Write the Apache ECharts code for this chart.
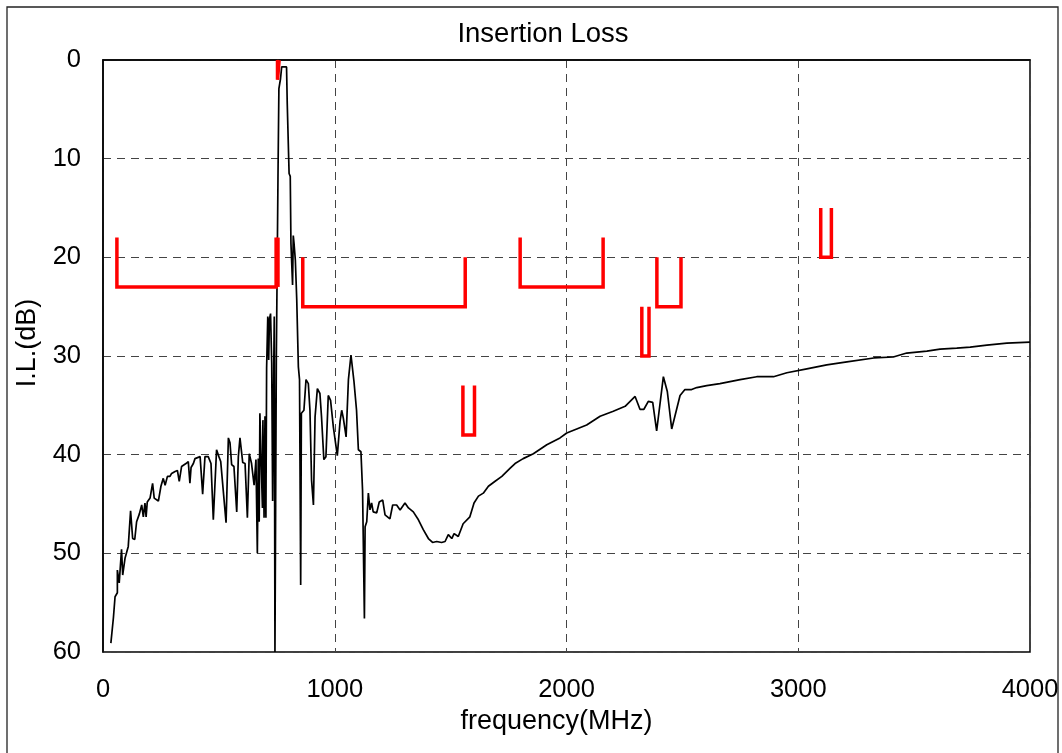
<!DOCTYPE html>
<html>
<head>
<meta charset="utf-8">
<script src="https://cdn.jsdelivr.net/npm/echarts@6/dist/echarts.min.js"></script>
<style>
html,body{margin:0;padding:0;background:#fff;}
#chart{width:1062px;height:753px;}
</style>
</head>
<body>
<div id="chart"></div>
<script>
// ---- data ----
var xTicks = [0, 1000, 2000, 3000, 4000];
var yTicks = [0, 10, 20, 30, 40, 50, 60];

var freq = [34,45,52,62,62,70,80,85,95,102,109,119,128,137,145,157,167,174,181,186,191,203,214,221,239,250,260,268,278,289,296,311,321,329,339,347,358,368,375,380,390,397,404,419,430,440,454,466,476,490,500,508,531,541,548,555,565,577,584,591,603,613,623,631,641,652,660,666,670,674,677,683,688,690,695,699,703,706,711,715,718,723,728,732,735,739,742,745,748,752,755,759,766,771,792,795,800,803,808,811,815,818,821,824,830,836,843,848,853,856,861,867,876,886,893,900,908,915,925,936,943,953,962,972,982,994,1011,1023,1030,1037,1049,1059,1070,1083,1094,1102,1113,1120,1128,1131,1138,1145,1152,1159,1166,1181,1192,1207,1217,1238,1250,1267,1282,1303,1318,1339,1361,1382,1404,1422,1440,1461,1476,1490,1505,1515,1533,1554,1583,1601,1620,1641,1663,1692,1721,1756,1778,1813,1857,1915,1972,2001,2044,2087,2145,2202,2253,2296,2317,2334,2353,2372,2389,2418,2435,2454,2490,2511,2540,2562,2605,2662,2749,2821,2893,2951,3037,3123,3210,3326,3410,3468,3555,3612,3684,3742,3814,3900,4000];
var loss = [59.1,56.5,54.4,54.0,51.7,53.0,49.6,52.2,50.5,50.7,49.3,45.7,48.5,48.6,46.8,46.0,45.1,46.3,44.9,46.3,44.8,44.4,42.9,44.4,44.7,43.2,42.4,43.1,42.2,42.2,41.9,41.7,41.6,42.7,41.2,41.3,40.9,40.7,42.9,41.3,40.9,40.4,40.2,40.2,44.0,40.2,40.2,40.9,46.6,39.5,40.2,40.7,46.9,38.3,38.8,41.0,41.2,45.8,40.2,38.3,40.8,40.9,46.4,39.9,40.9,43.1,40.5,50.0,40.4,46.8,35.8,41.2,45.4,36.5,46.4,36.1,46.4,31.2,26.0,30.4,26.3,25.7,30.7,44.7,35.5,26.0,60.0,45.0,30.0,20.0,12.0,2.9,1.9,0.7,0.7,4.4,4.6,11.5,11.8,18.6,18.6,22.8,17.8,18.5,20.3,24.3,31.1,32.4,53.2,35.8,35.8,35.5,32.4,32.8,35.5,42.6,45.1,36.2,33.3,33.8,36.2,40.5,40.2,34.0,34.5,37.2,40.1,36.6,35.5,36.3,38.2,32.4,29.9,32.6,35.5,39.5,39.7,43.6,56.6,47.3,46.8,43.9,45.6,44.9,45.8,45.9,44.8,44.6,46.1,46.5,45.1,45.1,45.6,44.9,45.4,45.8,46.6,47.6,48.5,48.9,48.8,48.9,48.8,48.1,48.5,48.0,48.3,47.0,46.3,44.9,44.2,43.9,43.2,42.7,42.2,41.4,40.9,40.4,39.9,39.0,38.3,37.8,37.4,37.0,36.1,35.6,35.1,34.1,35.4,35.4,34.6,34.7,37.6,32.1,33.6,37.4,34.0,33.4,33.4,33.2,33.0,32.8,32.4,32.1,32.1,31.7,31.3,30.9,30.6,30.2,30.1,29.7,29.5,29.3,29.2,29.1,28.9,28.7,28.6];

// spec mask polylines: [freq MHz, dB]
var maskA = [[60,18],[60,23],[747,23],[747,18]];
var maskB = [[755,18],[755,23]];
var maskC = [[753,0],[753,2],[760,2],[760,0]];
var maskD = [[862,20],[862,25],[1563,25],[1563,20]];
var maskE = [[1553,33],[1553,38],[1603,38],[1603,33]];
var maskF = [[1800,18],[1800,23],[2158,23],[2158,18]];
var maskG = [[2325,25],[2325,30],[2356,30],[2356,25]];
var maskH = [[2390,20],[2390,25],[2494,25],[2494,20]];
var maskI = [[3097,15],[3097,20],[3143,20],[3143,15]];
var masks = [maskA, maskB, maskC, maskD, maskE, maskF, maskG, maskH, maskI];

// ---- chart ----
var FONT = 'Liberation Sans, Arial, sans-serif';
var curve = freq.map(function (f, i) { return [f, loss[i]]; });

var series = [{
  type: 'line',
  data: curve,
  showSymbol: false,
  symbol: 'none',
  lineStyle: { color: '#000', width: 1.7 },
  clip: true,
  z: 3
}];
masks.forEach(function (m) {
  series.push({
    type: 'line',
    data: m,
    symbol: 'none',
    lineStyle: { color: '#ff0000', width: 3.5, cap: 'butt', join: 'miter' },
    clip: false,
    z: 4
  });
});

var chart = echarts.init(document.getElementById('chart'), null, { renderer: 'canvas' });
chart.setOption({
  animation: false,
  backgroundColor: '#fff',
  title: {
    text: 'Insertion Loss',
    left: 538,
    top: 15,
    textAlign: 'center',
    textStyle: { fontFamily: FONT, fontSize: 27.5, fontWeight: 'normal', color: '#000' }
  },
  graphic: [{
    type: 'rect',
    shape: { x: 7, y: 7, width: 1051, height: 770 },
    style: { fill: 'none', stroke: '#222', lineWidth: 1.3 },
    silent: true
  }],
  grid: {
    left: 103, right: 32, top: 60, bottom: 101,
    show: true, borderColor: '#000', borderWidth: 1.5, backgroundColor: 'transparent'
  },
  xAxis: {
    type: 'value',
    min: xTicks[0], max: xTicks[xTicks.length - 1], interval: 1000,
    name: 'frequency(MHz)',
    nameLocation: 'middle',
    nameGap: 54,
    nameTextStyle: { fontFamily: FONT, fontSize: 27, color: '#000', padding: [0, 20, 0, 0] },
    axisLine: { show: true, lineStyle: { color: '#000', width: 1.5 } },
    axisTick: { show: false },
    axisLabel: { fontFamily: FONT, fontSize: 25.5, color: '#000', margin: 25,
      formatter: function (v) { return String(v); } },
    splitLine: { show: true, lineStyle: { color: '#444', type: [8, 6], width: 1 } }
  },
  yAxis: {
    type: 'value',
    inverse: true,
    min: yTicks[0], max: yTicks[yTicks.length - 1], interval: 10,
    name: 'I.L.(dB)',
    nameLocation: 'middle',
    nameGap: 62,
    nameRotate: 90,
    nameTextStyle: { fontFamily: FONT, fontSize: 27, color: '#000', padding: [0, 0, 0, 26] },
    axisLine: { show: true, lineStyle: { color: '#000', width: 1.5 } },
    axisTick: { show: false },
    axisLabel: { fontFamily: FONT, fontSize: 25.5, color: '#000', margin: 22,
      formatter: function (v) { return String(v); } },
    splitLine: { show: true, lineStyle: { color: '#444', type: [8, 6], width: 1 } }
  },
  series: series
});
</script>
</body>
</html>
